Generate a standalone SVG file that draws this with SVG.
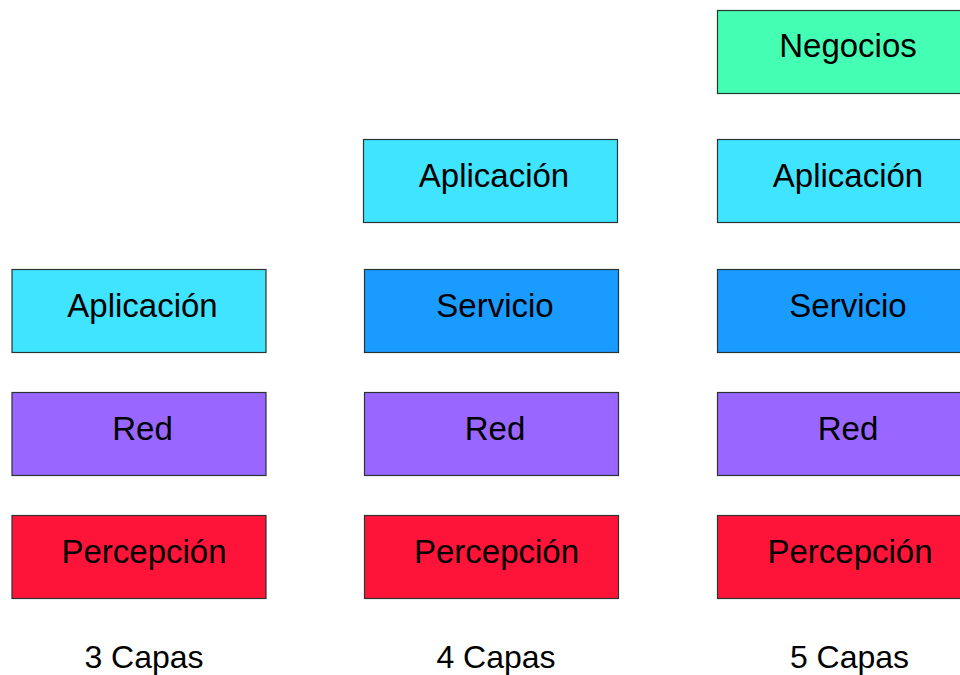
<svg xmlns="http://www.w3.org/2000/svg" width="960" height="675" viewBox="0 0 960 675">
<style>
rect{stroke:#2b3333;stroke-width:1.2}
text{font-family:"Liberation Sans",Arial,sans-serif;font-size:33px;fill:#000;text-anchor:middle}
.lbl{font-size:32px}
.neg{fill:#44ffb3}.app{fill:#40e4ff}.srv{fill:#1a9bff}.red{fill:#9966ff}.per{fill:#ff1439}
</style>
<rect width="960" height="675" fill="#fff" style="stroke:none"/>
<g id="c1-aplicacion"><rect class="app" x="12" y="269.5" width="254" height="83"/><text x="142.5" y="317">Aplicación</text></g>
<g id="c1-red"><rect class="red" x="12" y="392.5" width="254" height="83"/><text x="142.5" y="440">Red</text></g>
<g id="c1-percepcion"><rect class="per" x="12" y="515.5" width="254" height="83"/><text x="144" y="563">Percepción</text></g>
<g id="c2-aplicacion"><rect class="app" x="363.5" y="139.5" width="254" height="83"/><text x="494" y="187">Aplicación</text></g>
<g id="c2-servicio"><rect class="srv" x="364.5" y="269.5" width="254" height="83"/><text x="495" y="317">Servicio</text></g>
<g id="c2-red"><rect class="red" x="364.5" y="392.5" width="254" height="83"/><text x="495" y="440">Red</text></g>
<g id="c2-percepcion"><rect class="per" x="364.5" y="515.5" width="254" height="83"/><text x="496.5" y="563">Percepción</text></g>
<g id="c3-negocios"><rect class="neg" x="717.5" y="10.5" width="254" height="83"/><text x="848" y="57">Negocios</text></g>
<g id="c3-aplicacion"><rect class="app" x="717.5" y="139.5" width="254" height="83"/><text x="848" y="187">Aplicación</text></g>
<g id="c3-servicio"><rect class="srv" x="717.5" y="269.5" width="254" height="83"/><text x="848" y="317">Servicio</text></g>
<g id="c3-red"><rect class="red" x="717.5" y="392.5" width="254" height="83"/><text x="848" y="440">Red</text></g>
<g id="c3-percepcion"><rect class="per" x="717.5" y="515.5" width="254" height="83"/><text x="850" y="563">Percepción</text></g>
<g id="labels">
<text class="lbl" x="144" y="668">3 Capas</text>
<text class="lbl" x="496" y="668">4 Capas</text>
<text class="lbl" x="849.5" y="668">5 Capas</text>
</g>
<g id="connectors"/>
</svg>
